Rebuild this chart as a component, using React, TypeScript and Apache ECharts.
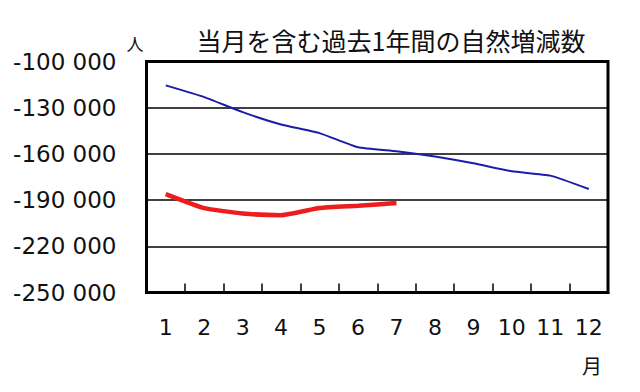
import React, { useEffect, useRef } from "react";
import * as echarts from "echarts";

const months = ["1", "2", "3", "4", "5", "6", "7", "8", "9", "10", "11", "12"];
const previousYear = [-115500, -123100, -132900, -140900, -146500, -155700, -158300, -161700, -166100, -171300, -174100, -182800];
const currentYear = [-186100, -195200, -198700, -199800, -195200, -193700, -191900];
const titleText = "当月を含む過去1年間の自然増減数";
const yUnit = "人";
const xUnit = "月";

const fmt = (v: number) => {
  const s = Math.abs(v).toString().replace(/\B(?=(\d{3})+(?!\d))/g, " ");
  return (v < 0 ? "-" : "") + s;
};

export default function App() {
  const ref = useRef<HTMLDivElement>(null);
  useEffect(() => {
    if (!ref.current) return;
    const chart = echarts.init(ref.current, undefined, { renderer: "svg" });
    const font = "'DejaVu Sans', Verdana, sans-serif";
    chart.setOption({
      animation: false,
      backgroundColor: "#ffffff",
      title: {
        text: titleText,
        left: 386,
        top: 22,
        textAlign: "center",
        textStyle: { fontFamily: "'Noto Sans CJK JP', sans-serif", fontSize: 25, fontWeight: "normal", color: "#111" },
      },
      graphic: [
        { type: "text", x: 135, y: 43, style: { text: yUnit, fontFamily: "'Noto Sans CJK JP', sans-serif", fontSize: 17, fill: "#111", textAlign: "center", textVerticalAlign: "middle" } },
        { type: "text", x: 592, y: 365, style: { text: xUnit, fontFamily: "'Noto Sans CJK JP', sans-serif", fontSize: 20, fill: "#111", textAlign: "center", textVerticalAlign: "middle" } },
      ],
      grid: {
        left: 146.5,
        right: 32,
        top: 61.5,
        bottom: 99.5,
        show: true,
        borderColor: "#000",
        borderWidth: 3,
        backgroundColor: "transparent",
      },
      xAxis: {
        type: "category",
        data: months,
        boundaryGap: true,
        axisLine: { show: true, lineStyle: { color: "#000", width: 3 } },
        axisTick: { show: true, inside: true, length: 9, alignWithLabel: false, lineStyle: { color: "#000", width: 1.5 } },
        axisLabel: { fontFamily: font, fontSize: 22, color: "#111", margin: 24 },
        splitLine: { show: false },
      },
      yAxis: {
        type: "value",
        min: -250000,
        max: -100000,
        interval: 30000,
        axisLine: { show: true, lineStyle: { color: "#000", width: 3 } },
        axisTick: { show: false },
        axisLabel: { fontFamily: font, fontSize: 23, color: "#111", margin: 30, formatter: (v: number) => fmt(v) },
        splitLine: { show: true, lineStyle: { color: "#000", width: 1.5 } },
      },
      series: [
        {
          type: "line",
          data: previousYear,
          symbol: "none",
          smooth: 0.15,
          lineStyle: { color: "#1c1caa", width: 2 },
          z: 3,
        },
        {
          type: "line",
          data: currentYear,
          symbol: "none",
          smooth: 0.15,
          lineStyle: { color: "#ee1c1c", width: 4.5 },
          z: 4,
        },
      ],
    });
    return () => chart.dispose();
  }, []);
  return <div ref={ref} style={{ position: "fixed", left: 0, top: 0, width: 640, height: 392 }} />;
}
